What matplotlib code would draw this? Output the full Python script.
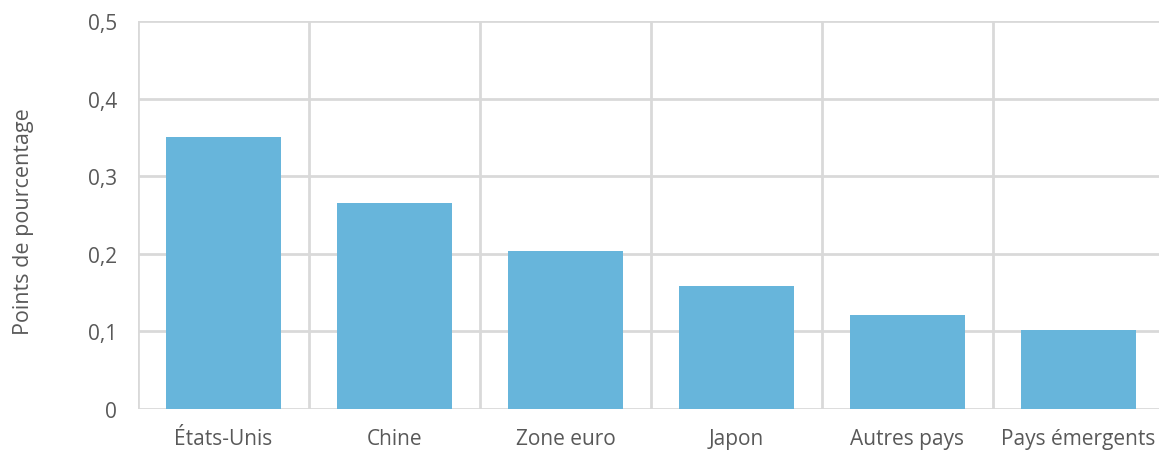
import matplotlib.pyplot as plt
import numpy as np

categories = ['États-Unis', 'Chine', 'Zone euro', 'Japon', 'Autres pays', 'Pays émergents']
values = [0.35, 0.265, 0.204, 0.158, 0.121, 0.102]
yticks = [0, 0.1, 0.2, 0.3, 0.4, 0.5]
ytick_labels = ['0', '0,1', '0,2', '0,3', '0,4', '0,5']

plt.rcParams['font.family'] = ['Open Sans', 'DejaVu Sans']
txt = '#595959'
grid = '#d9d9d9'

W, H = 1159, 456
fig = plt.figure(figsize=(W/100, H/100), dpi=100)
ax = fig.add_axes([138/W, 46/H, 1026/W, 388/H])

x = np.arange(len(categories))
ax.bar(x, values, width=0.667, color='#67b5db', zorder=3)

ax.set_xlim(-0.5, len(categories) - 0.5)
ax.set_ylim(0, 0.5)
ax.set_yticks(yticks)
ax.set_yticklabels(ytick_labels)
ax.set_xticks(x)
ax.set_xticklabels(categories)
ax.set_xticks(np.arange(len(categories) + 1) - 0.5, minor=True)

ax.grid(axis='y', which='major', color=grid, lw=2, zorder=0)
ax.grid(axis='x', which='minor', color=grid, lw=2, zorder=0)
ax.grid(axis='x', which='major', visible=False)
for s in ax.spines.values():
    s.set_visible(False)
ax.tick_params(which='both', length=0)
ax.tick_params(axis='y', pad=15, labelsize=15, labelcolor=txt)
ax.tick_params(axis='x', pad=14, labelsize=15, labelcolor=txt)
ax.set_ylabel('Points de pourcentage', fontsize=15.5, color=txt)
ax.yaxis.set_label_coords(-0.101, 0.485)

fig.savefig('out.png', dpi=100)
